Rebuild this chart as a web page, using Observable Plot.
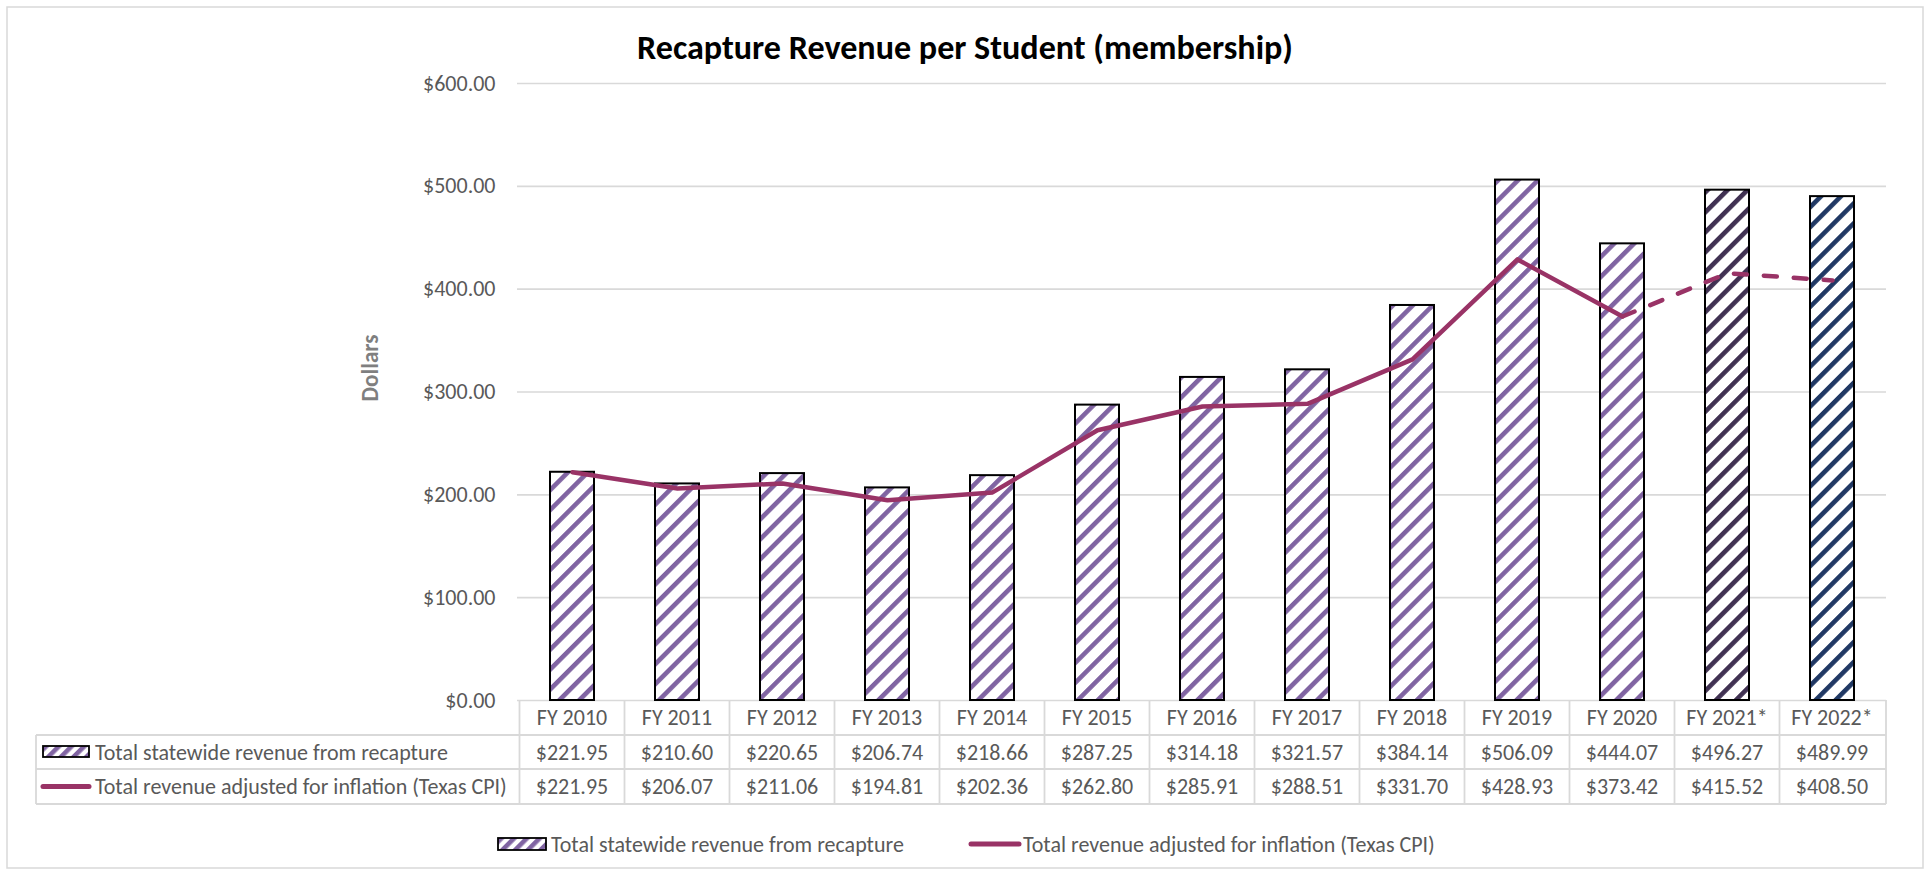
<!DOCTYPE html>
<html>
<head>
<meta charset="utf-8">
<script src="https://cdn.jsdelivr.net/npm/d3@7"></script>
<script src="https://cdn.jsdelivr.net/npm/@observablehq/plot@0.6"></script>
<style>
  html, body { margin: 0; padding: 0; background: #fff; }
  #chart svg { display: block; }
</style>
</head>
<body>
<div id="chart"></div>
<script>
// ---------- data ----------
const categories = ["FY 2010","FY 2011","FY 2012","FY 2013","FY 2014","FY 2015","FY 2016","FY 2017","FY 2018","FY 2019","FY 2020","FY 2021*","FY 2022*"];
const revenue = [221.95, 210.60, 220.65, 206.74, 218.66, 287.25, 314.18, 321.57, 384.14, 506.09, 444.07, 496.27, 489.99];
const adjusted = [221.95, 206.07, 211.06, 194.81, 202.36, 262.80, 285.91, 288.51, 331.70, 428.93, 373.42, 415.52, 408.50];
const yTicks = [0, 100, 200, 300, 400, 500, 600];
const seriesNames = ["Total statewide revenue from recapture", "Total revenue adjusted for inflation (Texas CPI)"];
const titleText = "Recapture Revenue per Student (membership)";
const yLabel = "Dollars";
const firstEstimate = "FY 2020"; // line turns dashed after this year

// ---------- helpers ----------
const FAMILY = "Carlito, Calibri, Lato, sans-serif";
function fitFont(text, weight, target) {
  const s = d3.select("body").append("svg").attr("width", 10).attr("height", 10);
  const t = s.append("text").attr("font-family", FAMILY).attr("font-weight", weight).attr("font-size", 100).text(text);
  const w = t.node().getComputedTextLength();
  s.remove();
  return 100 * target / w;
}
const fs = fitFont(seriesNames[0], 400, 353);
const titleFs = fitFont(titleText, 700, 656);
const yLabFs = fitFont(yLabel, 700, 67);
const money = d => "$" + d.toFixed(2);

const rows = categories.map((c, i) => ({cat: c, i, rev: revenue[i], adj: adjusted[i]}));
const cut = categories.indexOf(firstEstimate);
const solid = rows.slice(0, cut + 1);
const dashed = rows.slice(cut);

const W = 1931, H = 875;
const mL = 517, mR = 45, mT = 83, mB = 175;
const TEXT = "#595959", GRID = "#d9d9d9", LINE = "#993366";

const chart = Plot.plot({
  width: W, height: H,
  marginLeft: mL, marginRight: mR, marginTop: mT, marginBottom: mB,
  style: {fontFamily: FAMILY, background: "#fff"},
  x: {domain: categories, paddingInner: 0.583, paddingOuter: 0.2915, axis: null},
  y: {domain: [0, 600], label: null},
  marks: [
    Plot.gridY(yTicks, {stroke: GRID, strokeOpacity: 1, strokeWidth: 1.6}),
    Plot.axisY(yTicks, {tickSize: 0, tickPadding: 22, tickFormat: money, fontSize: fs, fill: TEXT, label: null}),
    Plot.barY(rows.filter(d => d.i < 11), {x: "cat", y: "rev", fill: "url(#stripeA)", stroke: "#000", strokeWidth: 2}),
    Plot.barY(rows.filter(d => d.i === 11), {x: "cat", y: "rev", fill: "url(#stripeB)", stroke: "#000", strokeWidth: 2}),
    Plot.barY(rows.filter(d => d.i === 12), {x: "cat", y: "rev", fill: "url(#stripeC)", stroke: "#000", strokeWidth: 2}),
    Plot.line(solid, {x: "cat", y: "adj", stroke: LINE, strokeWidth: 4.5, strokeLinejoin: "round", strokeLinecap: "round"}),
    Plot.line(dashed, {x: "cat", y: "adj", stroke: LINE, strokeWidth: 4.5, strokeDasharray: "13,17", strokeLinecap: "round"})
  ]
});
document.getElementById("chart").appendChild(chart);

// ---------- patterns ----------
const svg = d3.select(chart);
const defs = svg.insert("defs", ":first-child");
function stripe(id, color, size) {
  const p = defs.append("pattern").attr("id", id).attr("patternUnits", "userSpaceOnUse")
    .attr("width", size).attr("height", size).attr("patternTransform", "rotate(45)");
  p.append("rect").attr("width", size).attr("height", size).attr("fill", "#fff");
  p.append("rect").attr("width", 4.6).attr("height", size).attr("fill", color);
}
stripe("stripeA", "#8064a2", 14.1);
stripe("stripeB", "#403152", 14.1);
stripe("stripeC", "#203864", 14.1);
stripe("stripeL", "#8064a2", 9);

// ---------- outer frame & title ----------
svg.insert("rect", "defs + *").attr("x", 7).attr("y", 7).attr("width", 1916).attr("height", 861)
  .attr("fill", "none").attr("stroke", GRID).attr("stroke-width", 1.5);
svg.append("text").attr("x", 965).attr("y", 47).attr("text-anchor", "middle").attr("dominant-baseline", "central")
  .attr("font-family", FAMILY).attr("font-weight", 700).attr("font-size", titleFs).attr("fill", "#000").text(titleText);
svg.append("text").attr("transform", "translate(370,368) rotate(-90)").attr("text-anchor", "middle").attr("dominant-baseline", "central")
  .attr("font-family", FAMILY).attr("font-weight", 700).attr("font-size", yLabFs).attr("fill", "#7f7f7f").text(yLabel);

// ---------- data table ----------
const xs = chart.scale("x");
const step = xs.step, bw = xs.bandwidth;
const center = c => xs.apply(c) + bw / 2;
const tLeft = 36, tRight = W - mR;
const y0 = H - mB, y1 = 735, y2 = 769, y3 = 804;
const tg = svg.append("g").attr("stroke", GRID).attr("stroke-width", 1.8);
[y1, y2, y3].forEach(y => tg.append("line").attr("x1", tLeft).attr("x2", tRight).attr("y1", y).attr("y2", y));
tg.append("line").attr("x1", tLeft).attr("x2", tLeft).attr("y1", y1).attr("y2", y3);
categories.forEach(c => {
  const xl = center(c) - step / 2;
  tg.append("line").attr("x1", xl).attr("x2", xl).attr("y1", y0).attr("y2", y3);
});
tg.append("line").attr("x1", tRight).attr("x2", tRight).attr("y1", y0).attr("y2", y3);

const tt = svg.append("g").attr("font-family", FAMILY).attr("font-size", fs).attr("fill", TEXT)
  .attr("text-anchor", "middle").attr("dominant-baseline", "central");
rows.forEach(d => {
  tt.append("text").attr("x", center(d.cat)).attr("y", (y0 + y1) / 2).text(d.cat);
  tt.append("text").attr("x", center(d.cat)).attr("y", (y1 + y2) / 2).text(money(d.rev));
  tt.append("text").attr("x", center(d.cat)).attr("y", (y2 + y3) / 2).text(money(d.adj));
});
// row labels with keys
const lab = svg.append("g").attr("font-family", FAMILY).attr("font-size", fs).attr("fill", TEXT)
  .attr("text-anchor", "start").attr("dominant-baseline", "central");
lab.append("rect").attr("x", 43).attr("y", 746).attr("width", 46).attr("height", 11).attr("fill", "url(#stripeL)").attr("stroke", "#000").attr("stroke-width", 1.8);
lab.append("text").attr("x", 95).attr("y", (y1 + y2) / 2).text(seriesNames[0]);
lab.append("line").attr("x1", 43).attr("x2", 89).attr("y1", 786.5).attr("y2", 786.5).attr("stroke", LINE).attr("stroke-width", 5).attr("stroke-linecap", "round");
lab.append("text").attr("x", 95).attr("y", (y2 + y3) / 2).text(seriesNames[1]);

// ---------- legend ----------
const lg = svg.append("g").attr("font-family", FAMILY).attr("font-size", fs).attr("fill", TEXT)
  .attr("text-anchor", "start").attr("dominant-baseline", "central");
lg.append("rect").attr("x", 498).attr("y", 838).attr("width", 48).attr("height", 12).attr("fill", "url(#stripeL)").attr("stroke", "#000").attr("stroke-width", 1.8);
lg.append("text").attr("x", 551).attr("y", 844).text(seriesNames[0]);
lg.append("line").attr("x1", 971).attr("x2", 1019).attr("y1", 844).attr("y2", 844).attr("stroke", LINE).attr("stroke-width", 5).attr("stroke-linecap", "round");
lg.append("text").attr("x", 1023).attr("y", 844).text(seriesNames[1]);
</script>
</body>
</html>
